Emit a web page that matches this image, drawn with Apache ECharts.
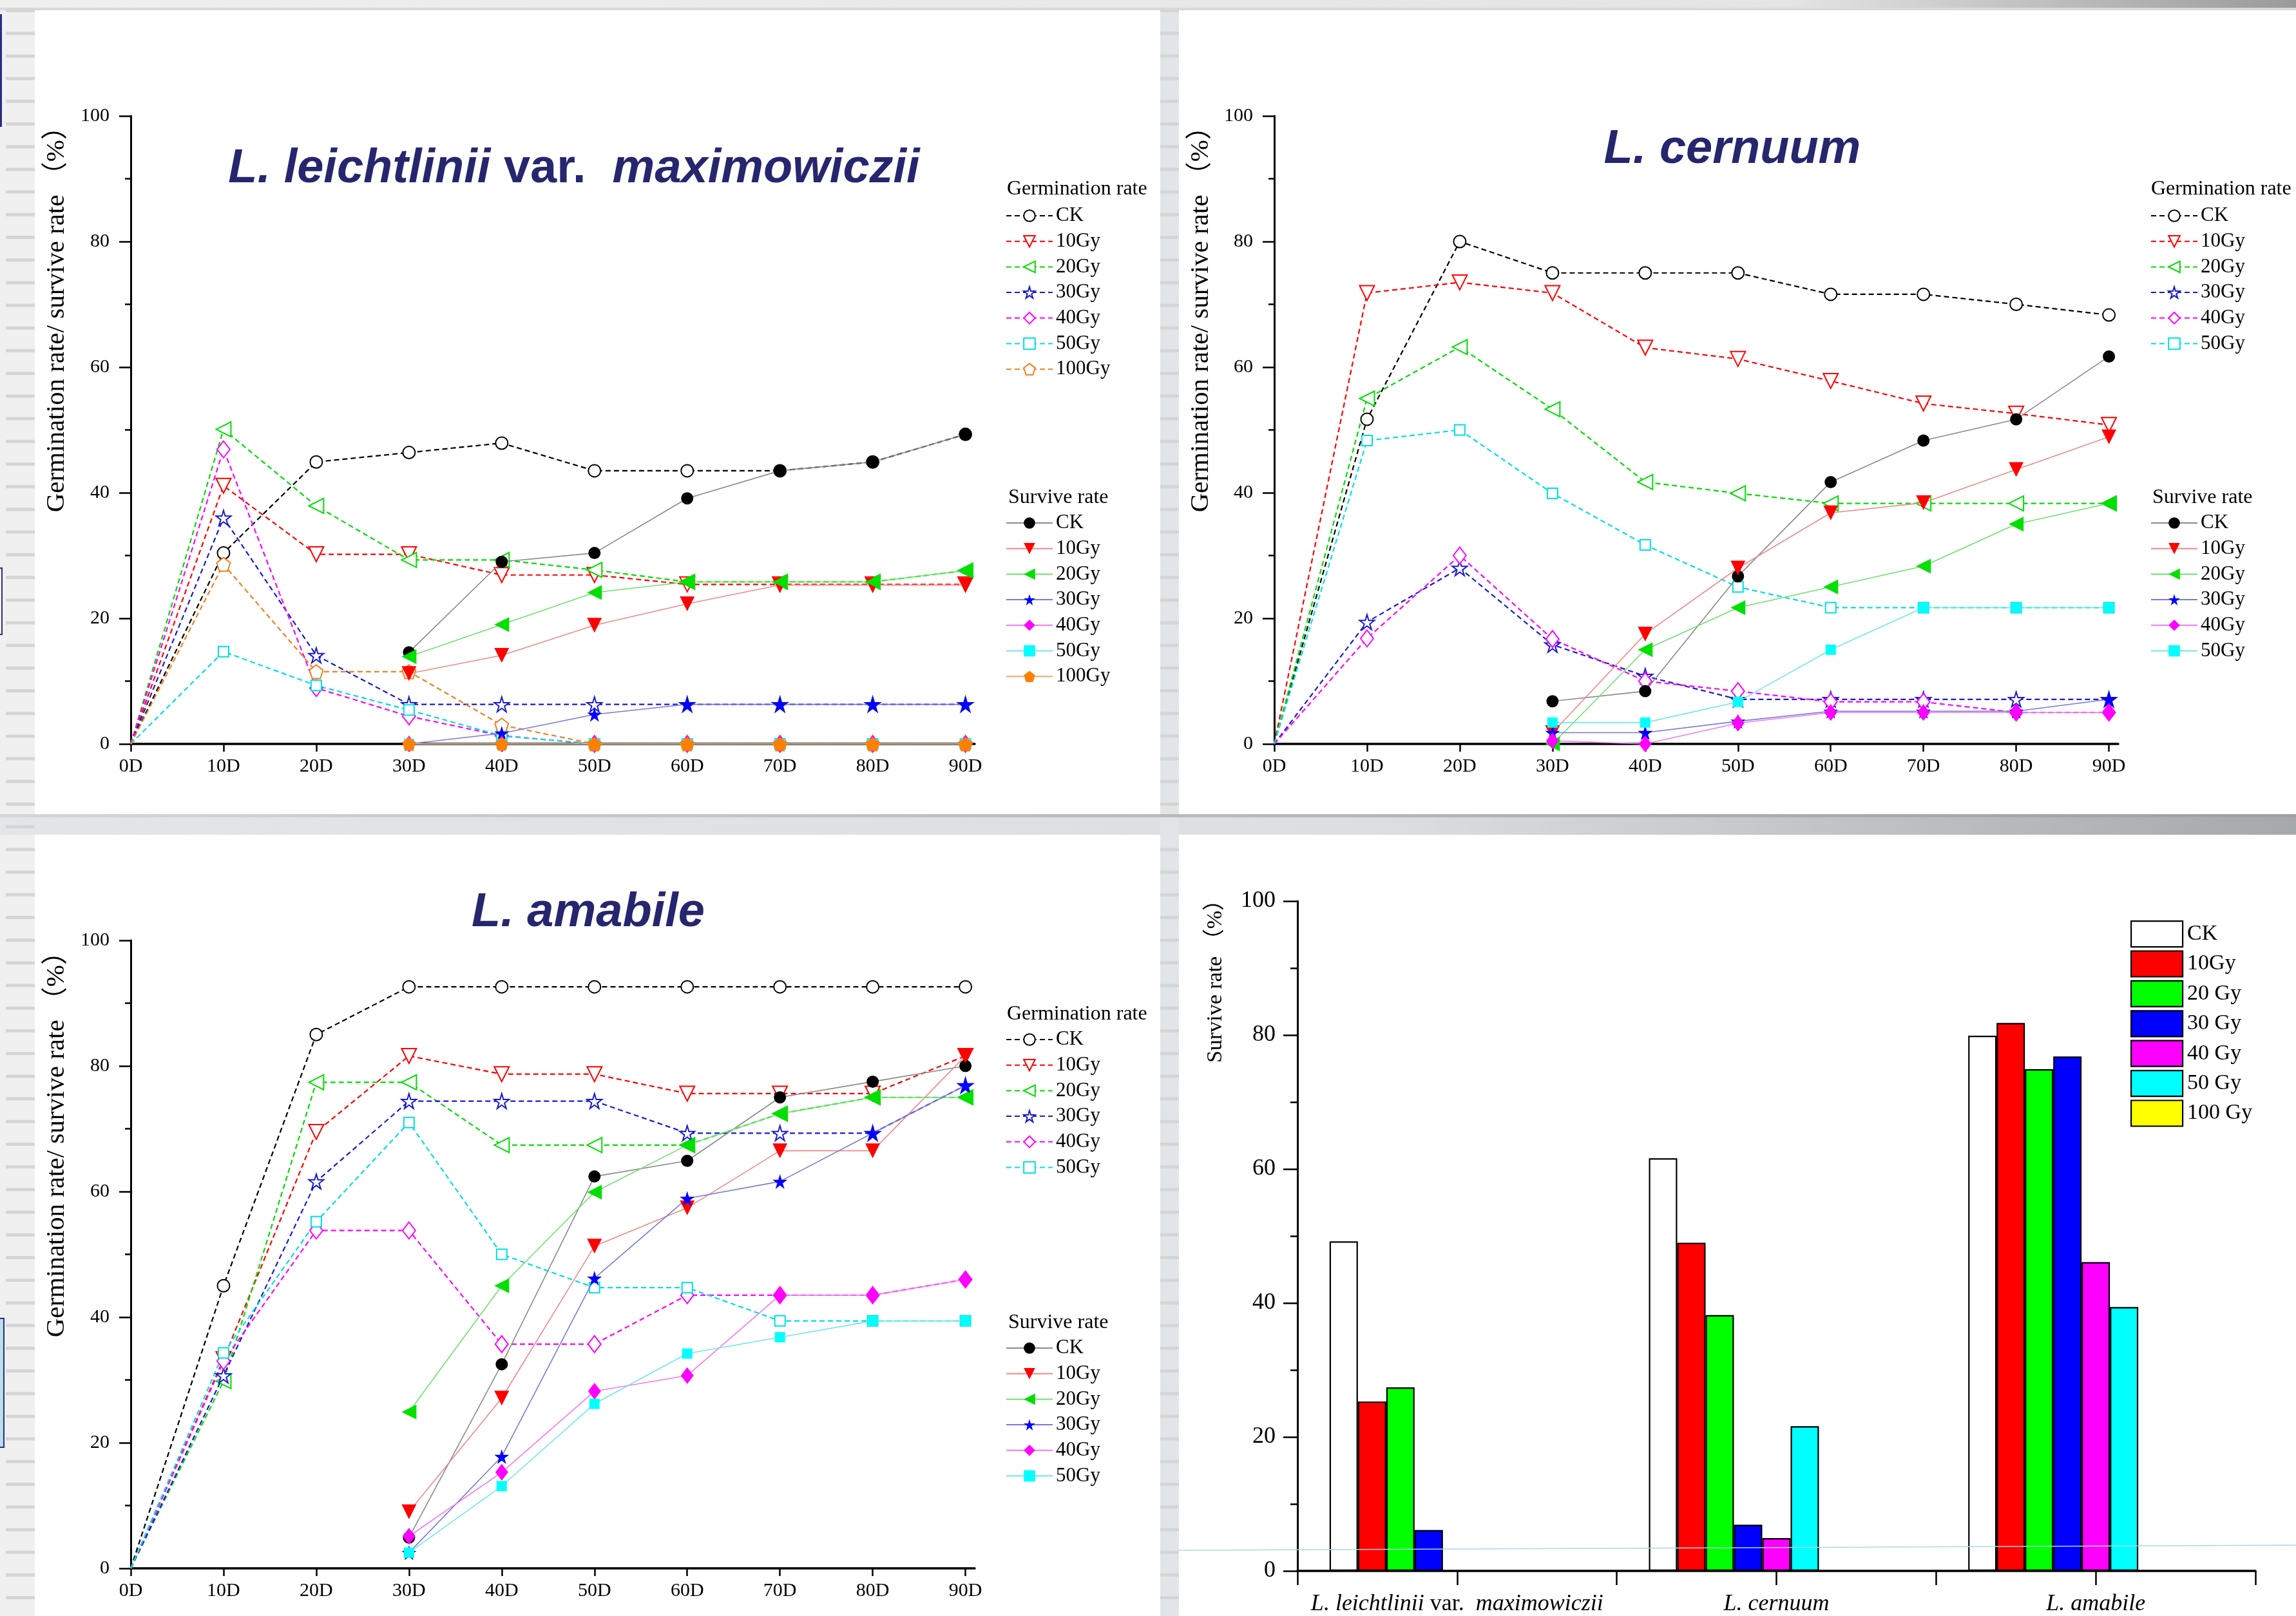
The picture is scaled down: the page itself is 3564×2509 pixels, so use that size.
<!DOCTYPE html>
<html><head><meta charset="utf-8">
<script src="https://cdn.jsdelivr.net/npm/echarts@6/dist/echarts.min.js"></script>
<style>html,body{margin:0;padding:0;background:#fff}#c{width:3564px;height:2509px}</style>
</head><body><div id="c"></div><script>
// ---------------- data ----------------
const days = [0, 10, 20, 30, 40, 50, 60, 70, 80, 90];
const doses = ['CK', '10Gy', '20Gy', '30Gy', '40Gy', '50Gy', '100Gy'];
const species = ['L. leichtlinii var.  maximowiczii', 'L. cernuum', 'L. amabile'];

// L. leichtlinii var. maximowiczii
const leiGermCK   = [0, 30.4, 44.9, 46.4, 47.9, 43.5, 43.5, 43.5, 44.9, 49.3];
const leiGerm10   = [0, 41.1, 30.2, 30.2, 26.9, 26.9, 25.4, 25.4, 25.4, 25.4];
const leiGerm20   = [0, 50.1, 37.9, 29.3, 29.3, 27.7, 25.8, 25.8, 25.8, 27.6];
const leiGerm30   = [0, 36.0, 14.1, 6.3, 6.3, 6.3, 6.3, 6.3, 6.3, 6.3];
const leiGerm40   = [0, 46.9, 8.9, 4.4, 1.3, 0, 0, 0, 0, 0];
const leiGerm50   = [0, 14.7, 9.3, 5.4, 1.3, 0, 0, 0, 0, 0];
const leiGerm100  = [0, 28.6, 11.5, 11.5, 3.0, 0, 0, 0, 0, 0];
const leiSurvCK   = [null, null, null, 14.6, 29.0, 30.4, 39.1, 43.5, 44.9, 49.3];
const leiSurv10   = [null, null, null, 11.2, 14.1, 18.9, 22.3, 25.3, 25.3, 25.3];
const leiSurv20   = [null, null, null, 13.9, 19.0, 24.1, 25.8, 25.8, 25.8, 27.6];
const leiSurv30   = [null, null, null, 0, 1.7, 4.7, 6.3, 6.3, 6.3, 6.3];
const leiSurv40   = [null, null, null, 0, 0, 0, 0, 0, 0, 0];
const leiSurv50   = [null, null, null, 0, 0, 0, 0, 0, 0, 0];
const leiSurv100  = [null, null, null, 0, 0, 0, 0, 0, 0, 0];

// L. cernuum
const cerGermCK   = [0, 51.7, 80.0, 75.0, 75.0, 75.0, 71.6, 71.6, 70.0, 68.3];
const cerGerm10   = [0, 71.8, 73.5, 71.8, 63.1, 61.3, 57.8, 54.2, 52.6, 50.8];
const cerGerm20   = [0, 55.0, 63.2, 53.3, 41.7, 39.9, 38.3, 38.3, 38.3, 38.3];
const cerGerm30   = [0, 19.4, 28.0, 15.8, 10.8, 7.1, 7.1, 7.1, 7.1, 7.1];
const cerGerm40   = [0, 16.8, 30.0, 16.7, 10.0, 8.4, 6.7, 6.7, 5.0, 5.0];
const cerGerm50   = [0, 48.3, 50.0, 39.9, 31.7, 25.0, 21.7, 21.7, 21.7, 21.7];
const cerSurvCK   = [null, null, null, 6.8, 8.4, 26.7, 41.7, 48.3, 51.7, 61.7];
const cerSurv10   = [null, null, null, 1.8, 17.5, 28.0, 36.8, 38.4, 43.7, 48.9];
const cerSurv20   = [null, null, null, 0, 15.0, 21.7, 25.0, 28.3, 35.0, 38.3];
const cerSurv30   = [null, null, null, 1.8, 1.8, 3.6, 5.2, 5.2, 5.2, 7.1];
const cerSurv40   = [null, null, null, 0.5, 0, 3.3, 5.0, 5.0, 5.0, 5.0];
const cerSurv50   = [null, null, null, 3.4, 3.4, 6.7, 15.0, 21.7, 21.7, 21.7];

// L. amabile
const amaGermCK   = [0, 45.0, 85.0, 92.6, 92.6, 92.6, 92.6, 92.6, 92.6, 92.6];
const amaGerm10   = [0, 33.3, 69.5, 81.6, 78.7, 78.7, 75.6, 75.6, 75.6, 81.6];
const amaGerm20   = [0, 29.8, 77.4, 77.4, 67.4, 67.4, 67.4, 72.4, 75.0, 75.0];
const amaGerm30   = [0, 30.7, 61.6, 74.4, 74.4, 74.4, 69.3, 69.3, 69.3, 76.9];
const amaGerm40   = [0, 33.0, 53.8, 53.8, 35.7, 35.7, 43.5, 43.5, 43.5, 46.0];
const amaGerm50   = [0, 34.3, 55.2, 71.0, 50.0, 44.7, 44.7, 39.4, 39.4, 39.4];
const amaSurvCK   = [null, null, null, 4.9, 32.5, 62.4, 64.9, 75.0, 77.5, 80.0];
const amaSurv10   = [null, null, null, 9.0, 27.1, 51.3, 57.4, 66.5, 66.5, 81.6];
const amaSurv20   = [null, null, null, 24.9, 45.0, 59.9, 67.4, 72.4, 75.0, 75.0];
const amaSurv30   = [null, null, null, 2.5, 17.8, 46.2, 58.9, 61.6, 69.3, 76.9];
const amaSurv40   = [null, null, null, 5.1, 15.3, 28.2, 30.7, 43.5, 43.5, 46.0];
const amaSurv50   = [null, null, null, 2.5, 13.1, 26.2, 34.2, 36.8, 39.4, 39.4];

// survive rate at 90D (bar chart), per species
const barNames = ['CK', '10Gy', '20 Gy', '30 Gy', '40 Gy', '50 Gy', '100 Gy'];
const barCK   = [49.2, 61.6, 79.9];
const bar10   = [25.3, 49.0, 81.8];
const bar20   = [27.4, 38.2, 74.9];
const bar30   = [6.1, 6.9, 76.8];
const bar40   = [0, 4.9, 46.1];
const bar50   = [0, 21.6, 39.4];
const bar100  = [0, null, null];

// ---------------- styles ----------------
const SERIF = '"Liberation Serif", "Times New Roman", "Noto Sans CJK SC", serif';
const SANS = '"Liberation Sans", Arial, sans-serif';
const COL = { CK: '#000000', '10Gy': '#ff0000', '20Gy': '#00dd00', '30Gy': '#1a1ad0', '40Gy': '#ff00ff', '50Gy': '#00e0e0', '100Gy': '#f08020' };
const SCOL = { CK: '#000000', '10Gy': '#ff0000', '20Gy': '#00e000', '30Gy': '#0000ff', '40Gy': '#ff00ff', '50Gy': '#00ffff', '100Gy': '#ff8000' };
const SLINE = { CK: '#8a8a8a', '10Gy': '#ee8a8a', '20Gy': '#70e070', '30Gy': '#7a7ad8', '40Gy': '#f07af0', '50Gy': '#70e8e8', '100Gy': '#f0aa70' };
const SYM = {
  CK: 'circle',
  '10Gy': 'path://M0,0L20,0L10,18Z',
  '20Gy': 'path://M0,10L18,0L18,20Z',
  '30Gy': 'path://M50,0L61,35L98,35L68,57L79,91L50,70L21,91L32,57L2,35L39,35Z',
  '40Gy': 'diamond',
  '50Gy': 'rect',
  '100Gy': 'path://M50,0L98,35L79,91L21,91L2,35Z'
};
const SSIZE = { CK: 19, '10Gy': 23, '20Gy': 23, '30Gy': 23, '40Gy': [20, 26], '50Gy': 16, '100Gy': 21 };

// germination curves start from the origin without a marker
function pairs(vals, hideFirst) {
  return days.map((d, i) => (hideFirst && i === 0) ? { value: [d, vals[i]], symbol: 'none' } : [d, vals[i]]);
}

function germSeries(panel, gi, dose, vals) {
  return {
    name: panel + 'g|' + dose, type: 'line', xAxisIndex: gi, yAxisIndex: gi,
    data: pairs(vals, true), symbol: SYM[dose], symbolSize: SSIZE[dose],
    showAllSymbol: true, clip: false, z: 3,
    lineStyle: { color: COL[dose], width: 2.2, type: [8, 5] },
    itemStyle: { color: '#ffffff', borderColor: COL[dose], borderWidth: 2 },
    emphasis: { disabled: true }
  };
}
function survSeries(panel, gi, dose, vals) {
  return {
    name: panel + 's|' + dose, type: 'line', xAxisIndex: gi, yAxisIndex: gi,
    data: pairs(vals, false), symbol: SYM[dose], symbolSize: SSIZE[dose],
    showAllSymbol: true, clip: false, z: 4,
    lineStyle: { color: SLINE[dose], width: 1.6, type: 'solid' },
    itemStyle: { color: SCOL[dose], borderWidth: 0 },
    emphasis: { disabled: true }
  };
}

const panels = [
  { key: 'A', gi: 0, germ: [leiGermCK, leiGerm10, leiGerm20, leiGerm30, leiGerm40, leiGerm50, leiGerm100],
    surv: [leiSurvCK, leiSurv10, leiSurv20, leiSurv30, leiSurv40, leiSurv50, leiSurv100] },
  { key: 'B', gi: 1, germ: [cerGermCK, cerGerm10, cerGerm20, cerGerm30, cerGerm40, cerGerm50],
    surv: [cerSurvCK, cerSurv10, cerSurv20, cerSurv30, cerSurv40, cerSurv50] },
  { key: 'C', gi: 2, germ: [amaGermCK, amaGerm10, amaGerm20, amaGerm30, amaGerm40, amaGerm50],
    surv: [amaSurvCK, amaSurv10, amaSurv20, amaSurv30, amaSurv40, amaSurv50] }
];

const series = [];
panels.forEach(p => {
  p.germ.forEach((v, i) => series.push(germSeries(p.key, p.gi, doses[i], v)));
  p.surv.forEach((v, i) => series.push(survSeries(p.key, p.gi, doses[i], v)));
});

const barData = [barCK, bar10, bar20, bar30, bar40, bar50, bar100];
const barColors = ['#ffffff', '#ff0000', '#00ff00', '#0000ff', '#ff00ff', '#00ffff', '#ffff00'];
barData.forEach((v, i) => series.push({
  name: barNames[i], type: 'bar', xAxisIndex: 3, yAxisIndex: 3, data: v,
  barWidth: 44, barGap: '0%',
  itemStyle: { color: barColors[i], borderColor: '#000', borderWidth: 2.2 },
  emphasis: { disabled: true }
}));
// two empty slots (the original chart leaves room for them in every group)
[' gapA', ' gapB'].forEach(n => series.push({
  name: n, type: 'bar', xAxisIndex: 3, yAxisIndex: 3, data: [null, null, null],
  barWidth: 44, barGap: '0%', itemStyle: { color: 'transparent' }
}));

// ---------------- layout ----------------
const grids = [
  { left: 203, top: 180, width: 1310, height: 975 },
  { left: 1978, top: 180, width: 1310, height: 975 },
  { left: 203, top: 1460, width: 1310, height: 975 },
  { left: 2014, top: 1399, width: 1487, height: 1040 }
].map(g => Object.assign({ containLabel: false, outerBoundsMode: 'none' }, g));

function lineX(gi) {
  return {
    type: 'value', gridIndex: gi, min: 0, max: 91, interval: 10,
    axisLine: { show: true, onZero: false, lineStyle: { color: '#000', width: 3.5 } },
    axisTick: { show: true, length: 12, customValues: days, lineStyle: { color: '#000', width: 2.5 } },
    axisLabel: { show: true, customValues: days, formatter: v => v + 'D', fontFamily: SERIF, fontSize: 30, color: '#000', margin: 20 },
    splitLine: { show: false }
  };
}
function valY(gi, fs, tickLen) {
  return {
    type: 'value', gridIndex: gi, min: 0, max: 100, interval: 20,
    axisLine: { show: true, lineStyle: { color: '#000', width: 3 } },
    axisTick: { show: true, length: tickLen, lineStyle: { color: '#000', width: 2.5 } },
    minorTick: { show: true, splitNumber: 2, length: tickLen / 2, lineStyle: { color: '#000', width: 2.5 } },
    axisLabel: { fontFamily: SERIF, fontSize: fs, color: '#000', margin: 33 },
    splitLine: { show: false }, minorSplitLine: { show: false }
  };
}

const xAxes = [lineX(0), lineX(1), lineX(2),
  {
    type: 'category', gridIndex: 3, data: species, position: 'bottom',
    axisLine: { show: true, lineStyle: { color: '#000', width: 3.5 } },
    axisTick: { show: false },
    axisLabel: {
      interval: 0, margin: 34, fontFamily: SERIF, fontSize: 36, color: '#000',
      formatter: v => v.split('var.').map(s => '{i|' + s + '}').join('{n|var.}'),
      rich: { i: { fontFamily: SERIF, fontSize: 36, fontStyle: 'italic', color: '#000' },
              n: { fontFamily: SERIF, fontSize: 36, color: '#000' } }
    },
    splitLine: { show: false }
  },
  {
    type: 'category', gridIndex: 3, data: ['a', 'b', 'c', 'd', 'e', 'f'], position: 'bottom', boundaryGap: true,
    axisLine: { show: false }, axisLabel: { show: false },
    axisTick: { show: true, length: 22, lineStyle: { color: '#000', width: 2.5 } },
    splitLine: { show: false }
  }
];
const yAxes = [valY(0, 30, 18), valY(1, 30, 18), valY(2, 30, 18), valY(3, 36, 22)];
yAxes[3].axisLabel.margin = 34;

function lineLegend(names, left, top) {
  return {
    orient: 'vertical', left: left, top: top, padding: 0, itemGap: 7.7,
    itemWidth: 72, itemHeight: 22, selectedMode: false, data: names,
    formatter: n => n.split('|')[1],
    textStyle: { fontFamily: SERIF, fontSize: 31, lineHeight: 32, color: '#000' }
  };
}
const legends = [
  lineLegend(doses.map(d => 'Ag|' + d), 1561, 319),
  lineLegend(doses.map(d => 'As|' + d), 1561, 796),
  lineLegend(doses.slice(0, 6).map(d => 'Bg|' + d), 3338, 319),
  lineLegend(doses.slice(0, 6).map(d => 'Bs|' + d), 3338, 796),
  lineLegend(doses.slice(0, 6).map(d => 'Cg|' + d), 1561, 1598),
  lineLegend(doses.slice(0, 6).map(d => 'Cs|' + d), 1561, 2077),
  {
    orient: 'vertical', left: 3307, top: 1429, padding: 0, itemGap: 4.2,
    itemWidth: 80, itemHeight: 40, icon: 'rect', selectedMode: false, data: barNames,
    itemStyle: { borderColor: '#000', borderWidth: 2.2 },
    textStyle: { fontFamily: SERIF, fontSize: 34, color: '#000', padding: [0, 0, 0, 2] }
  }
];

// ---------------- decoration & texts ----------------
const G = [];
G.push({ type: 'rect', z: -100, silent: true, shape: { x: 0, y: 0, width: 3564, height: 2509 }, style: { fill: '#f0f0f0' } });
G.push({ type: 'rect', z: -99, silent: true, shape: { x: 0, y: 0, width: 3564, height: 13 },
  style: { fill: new echarts.graphic.LinearGradient(0, 0, 1, 0, [{ offset: 0, color: '#efefef' }, { offset: 0.78, color: '#e4e4e4' }, { offset: 1, color: '#9a9a9a' }]) } });
G.push({ type: 'rect', z: -99, silent: true, shape: { x: 0, y: 12, width: 3564, height: 4 }, style: { fill: '#d9d9d9' } });
G.push({ type: 'rect', z: -99, silent: true, shape: { x: 0, y: 1264, width: 3564, height: 32 },
  style: { fill: new echarts.graphic.LinearGradient(0, 0, 1, 0, [{ offset: 0, color: '#e3e5e8' }, { offset: 0.6, color: '#dcdee1' }, { offset: 1, color: '#a6a9ac' }]) } });
G.push({ type: 'rect', z: -98, silent: true, shape: { x: 0, y: 1264, width: 3564, height: 5 },
  style: { fill: new echarts.graphic.LinearGradient(0, 0, 1, 0, [{ offset: 0, color: '#d6d6d6' }, { offset: 1, color: '#a0a0a0' }]) } });
G.push({ type: 'rect', z: -99, silent: true, shape: { x: 1801, y: 16, width: 29, height: 2493 }, style: { fill: '#e2e5e8' } });
for (let y = 14; y < 2509; y += 35.2) {
  G.push({ type: 'rect', z: -97, silent: true, shape: { x: 9, y: y, width: 45, height: 5 }, style: { fill: '#d5d5d5' } });
  if (y < 1262 || y > 1298) G.push({ type: 'rect', z: -97, silent: true, shape: { x: 1801, y: y, width: 29, height: 5 }, style: { fill: '#d5d5d5' } });
}
[[54, 16, 1747, 1248], [1830, 16, 1734, 1248], [54, 1296, 1747, 1213], [1830, 1296, 1734, 1213]].forEach(r =>
  G.push({ type: 'rect', z: -90, silent: true, shape: { x: r[0], y: r[1], width: r[2], height: r[3] }, style: { fill: '#ffffff' } }));
G.push({ type: 'rect', z: -96, silent: true, shape: { x: 0, y: 22, width: 3, height: 175 }, style: { fill: '#2b2b86' } });
G.push({ type: 'rect', z: -96, silent: true, shape: { x: -2, y: 882, width: 5, height: 103 }, style: { fill: '#ffffff', stroke: '#2b2b86', lineWidth: 2 } });
G.push({ type: 'rect', z: -96, silent: true, shape: { x: -2, y: 2047, width: 8, height: 200 }, style: { fill: '#b9e0e6', stroke: '#2b2b86', lineWidth: 2 } });
G.push({ type: 'line', z: 100, silent: true, shape: { x1: 1830, y1: 2407, x2: 3564, y2: 2399 }, style: { stroke: '#a9dbe3', lineWidth: 1.5 } });

const NAVY = '#26266f';
function title(txt, x, y) {
  G.push({ type: 'text', z: 100, silent: true, x: x, y: y, style: {
    text: txt, align: 'center', verticalAlign: 'middle',
    fontFamily: SANS, fontSize: 74, fontWeight: 'bold', fill: NAVY,
    rich: { i: { fontFamily: SANS, fontSize: 74, fontWeight: 'bold', fontStyle: 'italic', fill: NAVY },
            n: { fontFamily: SANS, fontSize: 74, fontWeight: 'bold', fill: NAVY } } } });
}
title('{i|L. leichtlinii} {n|var.}  {i|maximowiczii}', 891, 263);
title('{i|L. cernuum}', 2689, 233);
title('{i|L. amabile}', 913, 1418);

function vname(txt, x, yTop, fs) {
  G.push({ type: 'text', z: 100, silent: true, x: x, y: yTop, rotation: Math.PI / 2, style: {
    text: txt, align: 'right', verticalAlign: 'middle', fontFamily: SERIF, fontSize: fs, fill: '#000' } });
}
const yName = 'Germination rate/ survive rate （%）';
vname(yName, 88, 176, 41);
vname(yName, 1864, 176, 41);
vname(yName, 88, 1457, 41);
vname('Survive rate （%）', 1887, 1380, 34);

function head(txt, x, y) {
  G.push({ type: 'text', z: 100, silent: true, x: x, y: y, style: {
    text: txt, align: 'left', verticalAlign: 'middle', fontFamily: SERIF, fontSize: 32, fill: '#000' } });
}
head('Germination rate', 1563, 294); head('Survive rate', 1565, 773);
head('Germination rate', 3339, 294); head('Survive rate', 3341, 773);
head('Germination rate', 1563, 1575); head('Survive rate', 1565, 2054);

const chart = echarts.init(document.getElementById('c'), null, { renderer: 'canvas', width: 3564, height: 2509 });
chart.setOption({
  animation: false,
  backgroundColor: '#f0f0f0',
  grid: grids, xAxis: xAxes, yAxis: yAxes,
  legend: legends, series: series,
  graphic: { elements: G }
});
</script></body></html>
